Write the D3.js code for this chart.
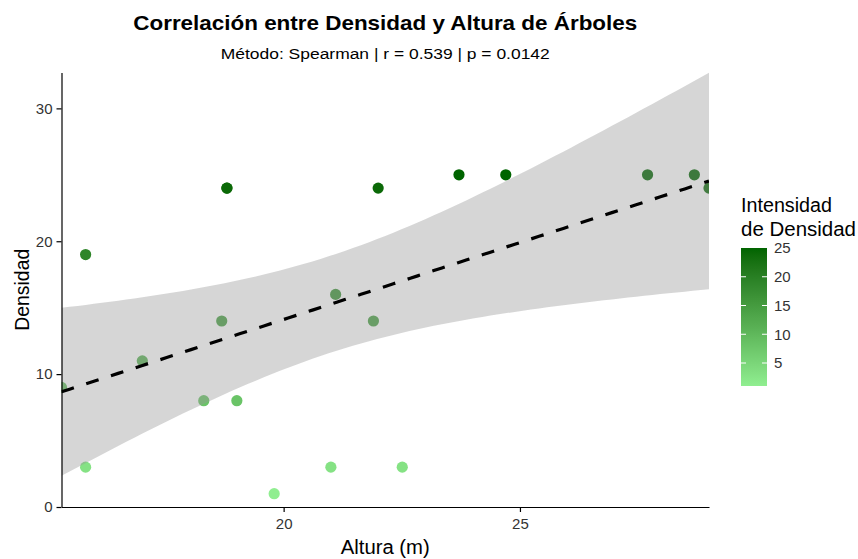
<!DOCTYPE html>
<html>
<head>
<meta charset="utf-8">
<script src="https://cdn.jsdelivr.net/npm/d3@7"></script>
<style>
  html, body { margin: 0; padding: 0; background: #fff; }
  svg { display: block; font-family: "Liberation Sans", Arial, sans-serif; }
</style>
</head>
<body>
<svg id="chart" width="858" height="559"></svg>
<script>
// Tree height (m) and stand density per plot
const altura   = [15.30, 15.81, 15.81, 17.01, 18.31, 18.69, 18.80, 18.80, 19.01, 19.80,
                  21.00, 21.10, 21.90, 22.00, 22.51, 23.71, 24.70, 27.70, 28.69, 29.00];
const densidad = [9, 19, 3, 11, 8, 14, 24, 24, 8, 1,
                  3, 16, 14, 24, 3, 25, 25, 25, 25, 24];

const xTicks = [20, 25];
const yTicks = [0, 10, 20, 30];
const legendTicks = [5, 10, 15, 20, 25];

const titleText = "Correlación entre Densidad y Altura de Árboles";
const subtitleText = "Método: Spearman | r = 0.539 | p = 0.0142";
const xLabel = "Altura (m)";
const yLabel = "Densidad";
const legendTitle = ["Intensidad", "de Densidad"];

const points = altura.map((a, i) => ({ x: a, y: densidad[i] }));

const svg = d3.select("#chart");
const panel = { left: 61.5, right: 709, top: 72.5, bottom: 507 };

const x = d3.scaleLinear().domain(d3.extent(altura)).range([panel.left, panel.right]);
const y = d3.scaleLinear().domain([0, 32.7]).range([panel.bottom, panel.top]);
const color = d3.scaleLinear()
  .domain(d3.extent(densidad))
  .range(["#90EE90", "#006400"])
  .interpolate(d3.interpolateLab);

// Ordinary least squares fit with 95% confidence band
const n = points.length;
const mx = d3.mean(altura), my = d3.mean(densidad);
const sxx = d3.sum(altura, v => (v - mx) ** 2);
const sxy = d3.sum(points, p => (p.x - mx) * (p.y - my));
const slope = sxy / sxx;
const intercept = my - slope * mx;
const sse = d3.sum(points, p => (p.y - (intercept + slope * p.x)) ** 2);
const s = Math.sqrt(sse / (n - 2));
const tCrit = 2.100922; // t(0.975, df = 18)
const fitX = d3.range(0, 81).map(i => x.domain()[0] + (x.domain()[1] - x.domain()[0]) * i / 80);
const fit = fitX.map(v => {
  const yhat = intercept + slope * v;
  const se = s * Math.sqrt(1 / n + (v - mx) ** 2 / sxx);
  return { x: v, y: yhat, lo: yhat - tCrit * se, hi: yhat + tCrit * se };
});

svg.append("defs").append("clipPath").attr("id", "panelClip")
  .append("rect")
  .attr("x", panel.left).attr("y", panel.top)
  .attr("width", panel.right - panel.left).attr("height", panel.bottom - panel.top);

const plot = svg.append("g").attr("clip-path", "url(#panelClip)");

// Points
plot.selectAll("circle.pt")
  .data(points)
  .join("circle")
  .attr("class", "pt")
  .attr("cx", d => x(d.x))
  .attr("cy", d => y(d.y))
  .attr("r", 5.6)
  .attr("fill", d => color(d.y));

// Confidence ribbon
plot.append("path")
  .datum(fit)
  .attr("d", d3.area().x(d => x(d.x)).y0(d => y(d.lo)).y1(d => y(d.hi)))
  .attr("fill", "#999999")
  .attr("fill-opacity", 0.4);

// Fitted line
plot.append("path")
  .datum(fit)
  .attr("d", d3.line().x(d => x(d.x)).y(d => y(d.y)))
  .attr("fill", "none")
  .attr("stroke", "#000")
  .attr("stroke-width", 3.2)
  .attr("stroke-dasharray", "13,13");

// Axes
const xAxis = svg.append("g")
  .attr("transform", `translate(0,${panel.bottom})`)
  .call(d3.axisBottom(x).tickValues(xTicks).tickSize(5).tickPadding(6).tickSizeOuter(0));
const yAxis = svg.append("g")
  .attr("transform", `translate(${panel.left},0)`)
  .call(d3.axisLeft(y).tickValues(yTicks).tickSize(5).tickPadding(4).tickSizeOuter(0));
[xAxis, yAxis].forEach(g => {
  g.select(".domain").attr("stroke", "#000").attr("stroke-width", 1.2);
  g.selectAll(".tick line").attr("stroke", "#000").attr("stroke-width", 1.2);
  g.selectAll(".tick text").attr("fill", "#333").style("font-size", "15px")
    .style("font-family", "'Liberation Sans', Arial, sans-serif");
});

// Titles
const cx = (panel.left + panel.right) / 2;
svg.append("text")
  .attr("x", cx).attr("y", 30)
  .attr("text-anchor", "middle")
  .attr("textLength", 504).attr("lengthAdjust", "spacingAndGlyphs")
  .style("font-size", "21px").style("font-weight", "bold")
  .text(titleText);
svg.append("text")
  .attr("x", cx).attr("y", 59)
  .attr("text-anchor", "middle")
  .attr("textLength", 329).attr("lengthAdjust", "spacingAndGlyphs")
  .style("font-size", "15.5px")
  .text(subtitleText);
svg.append("text")
  .attr("x", cx).attr("y", 554)
  .attr("text-anchor", "middle")
  .attr("textLength", 89).attr("lengthAdjust", "spacingAndGlyphs")
  .style("font-size", "19.5px")
  .text(xLabel);
svg.append("text")
  .attr("transform", `translate(29,${(panel.top + panel.bottom) / 2}) rotate(-90)`)
  .attr("text-anchor", "middle")
  .attr("textLength", 82).attr("lengthAdjust", "spacingAndGlyphs")
  .style("font-size", "19.5px")
  .text(yLabel);

// Colour bar legend
const legend = { x: 741, w: 26, top: 248, bottom: 386 };
const legY = d3.scaleLinear().domain(color.domain()).range([legend.bottom, legend.top]);
const grad = svg.select("defs").append("linearGradient")
  .attr("id", "legendGrad").attr("x1", 0).attr("y1", 1).attr("x2", 0).attr("y2", 0);
d3.range(0, 21).forEach(i => {
  const v = color.domain()[0] + (color.domain()[1] - color.domain()[0]) * i / 20;
  grad.append("stop").attr("offset", i / 20).attr("stop-color", color(v));
});
svg.append("rect")
  .attr("x", legend.x).attr("y", legend.top)
  .attr("width", legend.w).attr("height", legend.bottom - legend.top)
  .attr("fill", "url(#legendGrad)");
const lt = svg.append("g");
lt.selectAll("line.l")
  .data(legendTicks.filter(v => v < 25))
  .join("line")
  .attr("x1", legend.x).attr("x2", legend.x + 5)
  .attr("y1", d => legY(d)).attr("y2", d => legY(d))
  .attr("stroke", "#fff").attr("stroke-width", 1);
lt.selectAll("line.r")
  .data(legendTicks.filter(v => v < 25))
  .join("line")
  .attr("x1", legend.x + legend.w - 5).attr("x2", legend.x + legend.w)
  .attr("y1", d => legY(d)).attr("y2", d => legY(d))
  .attr("stroke", "#fff").attr("stroke-width", 1);
lt.selectAll("text")
  .data(legendTicks)
  .join("text")
  .attr("x", legend.x + legend.w + 7)
  .attr("y", d => legY(d))
  .attr("dy", "0.35em")
  .attr("fill", "#333")
  .style("font-size", "15px")
  .text(d => d);
const legendLens = [91, 115];
svg.append("text")
  .style("font-size", "19.5px")
  .selectAll("tspan")
  .data(legendTitle)
  .join("tspan")
  .attr("x", legend.x)
  .attr("y", (d, i) => 212 + i * 24)
  .attr("textLength", (d, i) => legendLens[i])
  .attr("lengthAdjust", "spacingAndGlyphs")
  .text(d => d);
</script>
</body>
</html>
